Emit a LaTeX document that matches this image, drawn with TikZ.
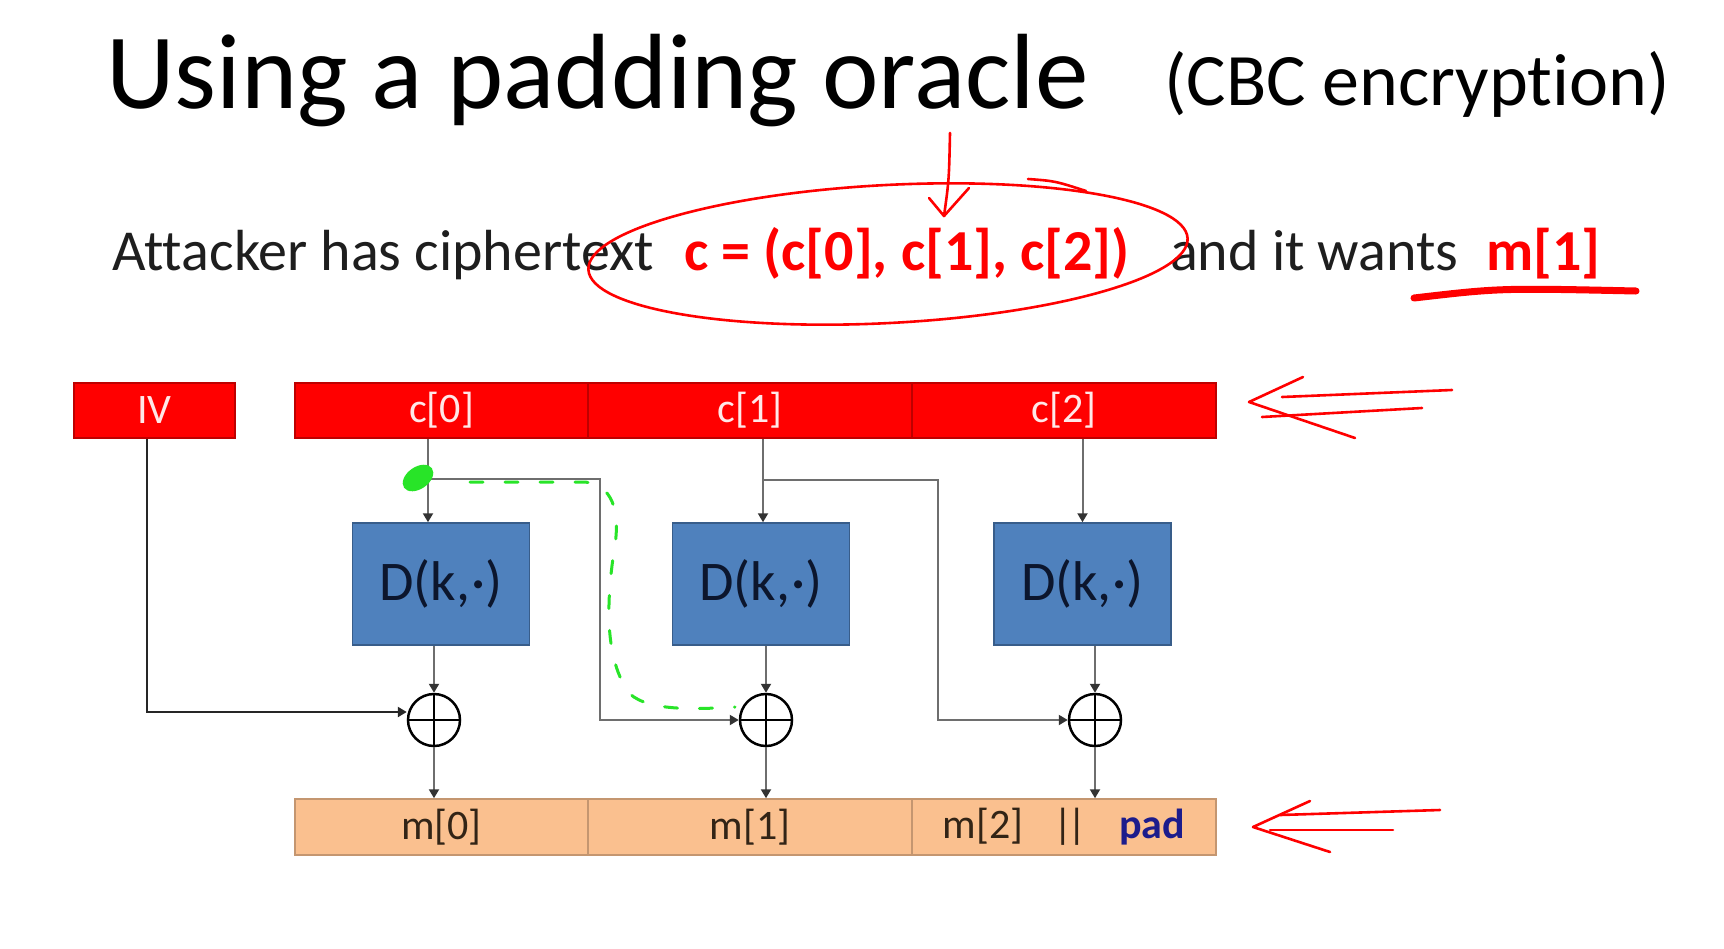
\documentclass[tikz,border=0pt]{standalone}
\usepackage{fontspec}
\setmainfont{Carlito}[Ligatures=NoCommon]
\usetikzlibrary{arrows.meta,calc}
\definecolor{cred}{RGB}{255,0,0}
\definecolor{credb}{RGB}{190,0,0}
\definecolor{peach}{RGB}{250,192,143}
\definecolor{peachb}{RGB}{196,150,112}
\definecolor{dblue}{RGB}{79,129,189}
\definecolor{dblueb}{RGB}{56,93,138}
\definecolor{dtext}{RGB}{12,22,45}
\definecolor{navy}{RGB}{28,28,140}
\definecolor{lgray}{RGB}{110,110,110}
\definecolor{gbright}{RGB}{40,228,40}
\definecolor{labelw}{RGB}{255,232,232}
\definecolor{mtext}{RGB}{50,36,22}
\definecolor{txt}{RGB}{30,30,30}
\begin{document}
\begin{tikzpicture}[x=1pt,y=-1pt,
  cbox/.style={draw=credb, line width=1.5pt, fill=cred, text=labelw, inner sep=0,
     minimum height=55pt, font=\fontsize{42}{48}\selectfont},
  mbox/.style={draw=peachb, line width=1.5pt, fill=peach, text=mtext, inner sep=0,
     minimum height=56pt, font=\fontsize{42}{48}\selectfont},
  dbox/.style={draw=dblueb, line width=1.5pt, fill=dblue, text=dtext, inner sep=0,
     minimum width=177pt, minimum height=122pt, font=\fontsize{56}{64}\selectfont},
  xorc/.style={circle, draw=black, line width=2.5pt, fill=white, inner sep=0, minimum size=52pt,
     path picture={\draw[line width=2.5pt] (path picture bounding box.north) -- (path picture bounding box.south)
        (path picture bounding box.west) -- (path picture bounding box.east);}},
  arr/.style={draw=lgray, line width=2pt, -{Triangle[width=10pt,length=9pt,color=black!80]}},
  ivarr/.style={draw=black!85, line width=2.5pt, -{Triangle[width=10pt,length=9pt]}},
  hand/.style={draw=cred, line width=2.6pt, line cap=round, line join=round},
  txtl/.style={anchor=base west, inner sep=0}
]
\useasboundingbox[fill=white] (0,0) rectangle (1724,948);

% titles and text
\node[txtl] (title) at (106,108) {\fontsize{107}{120}\selectfont Using a padding oracle};
\node[txtl] (subtitle) at (1164,105) {\fontsize{74}{84}\selectfont (CBC encryption)};
\node[txtl, text=txt] (l1) at (112,270) {\fontsize{58}{66}\selectfont Attacker has ciphertext};
\node[txtl, text=cred] (l2) at (684,270) {\fontsize{58}{66}\selectfont\bfseries c = (c[0], c[1], c[2])};
\node[txtl, text=txt] (l3) at (1170,270) {\fontsize{58}{66}\selectfont and it wants};
\node[txtl, text=cred] (l4) at (1486,270) {\fontsize{58}{66}\selectfont\bfseries m[1]};

% ciphertext row
\node[cbox, minimum width=161pt] (iv) at (154.5,410.5) {IV};
\node[cbox, minimum width=293pt] (c0) at (441.5,410.5) {c[0]};
\node[cbox, minimum width=324pt] (c1) at (750,410.5) {c[1]};
\node[cbox, minimum width=304pt] (c2) at (1064,410.5) {c[2]};

% decryption boxes
\node[dbox] (d1) at (441,584) {D(k,\kern1pt·)};
\node[dbox] (d2) at (761,584) {D(k,\kern1pt·)};
\node[dbox] (d3) at (1082.5,584) {D(k,\kern1pt·)};

% xor
\node[xorc] (x1) at (434,720) {};
\node[xorc] (x2) at (766,720) {};
\node[xorc] (x3) at (1095,720) {};

% plaintext row
\node[mbox, minimum width=293pt] (m0) at (441.5,827) {m[0]};
\node[mbox, minimum width=324pt] (m1) at (750,827) {m[1]};
\node[mbox, minimum width=304pt] (m2) at (1064,827) {m[2]\hspace{30pt}|\kern-5pt|\hspace{32pt}{\bfseries\color{navy}pad}};

% green annotation (under the lines)
\draw[gbright, line width=3pt, dash pattern=on 13pt off 22pt, line cap=round]
  (470,482) -- (585,482) .. controls (612,485) and (620,510) .. (615,545)
  .. controls (606,600) and (604,660) .. (630,694) .. controls (650,712) and (700,709) .. (735,707);

% connectors
\coordinate (b1) at (428,479);
\coordinate (k1) at (600,720);
\coordinate (b2) at (763,480);
\coordinate (k2) at (938,720);
\draw[arr] ([xshift=-13pt]d1.north |- c0.south) -- ([xshift=-13pt]d1.north);
\draw[arr] ([xshift=2pt]d2.north |- c1.south) -- ([xshift=2pt]d2.north);
\draw[arr] (d3.north |- c2.south) -- (d3.north);
\draw[arr] (b1) -| (k1) -- (x2.west);
\draw[arr] (b2) -| (k2) -- (x3.west);
\draw[ivarr] ([xshift=-7.5pt]iv.south) |- ([yshift=8pt]x1.west);
\draw[arr] (d1.south -| x1.north) -- (x1.north);
\draw[arr] (d2.south -| x2.north) -- (x2.north);
\draw[arr] (d3.south -| x3.north) -- (x3.north);
\draw[arr] (x1.south) -- (x1.south |- m0.north);
\draw[arr] (x2.south) -- (x2.south |- m1.north);
\draw[arr] (x3.south) -- (x3.south |- m2.north);

% green blob
\fill[gbright, rotate around={35:(418,478)}] (418,478) ellipse [x radius=17pt, y radius=11pt];

% red hand drawing
\draw[hand, rotate around={3:(888,254)}] (888,254) ellipse [x radius=300pt, y radius=69pt];
\draw[hand] (1028,179) .. controls (1055,181) .. (1086,191);
\draw[hand] (950,133) .. controls (949,180) .. (944,216);
\draw[hand] (929,198) -- (944,216) -- (969,188);
\draw[cred, line width=7pt, line cap=round] (1414,298) .. controls (1500,288) .. (1636,291);
\draw[hand] (1282,397) -- (1452,390);
\draw[hand] (1262,417) -- (1422,408);
\draw[hand] (1303,377) -- (1249,402) -- (1355,438);
\draw[hand] (1280,815) -- (1440,810);
\draw[hand] (1270,830) -- (1393,830);
\draw[hand] (1310,801) -- (1253,827) -- (1330,852);
\end{tikzpicture}
\end{document}
